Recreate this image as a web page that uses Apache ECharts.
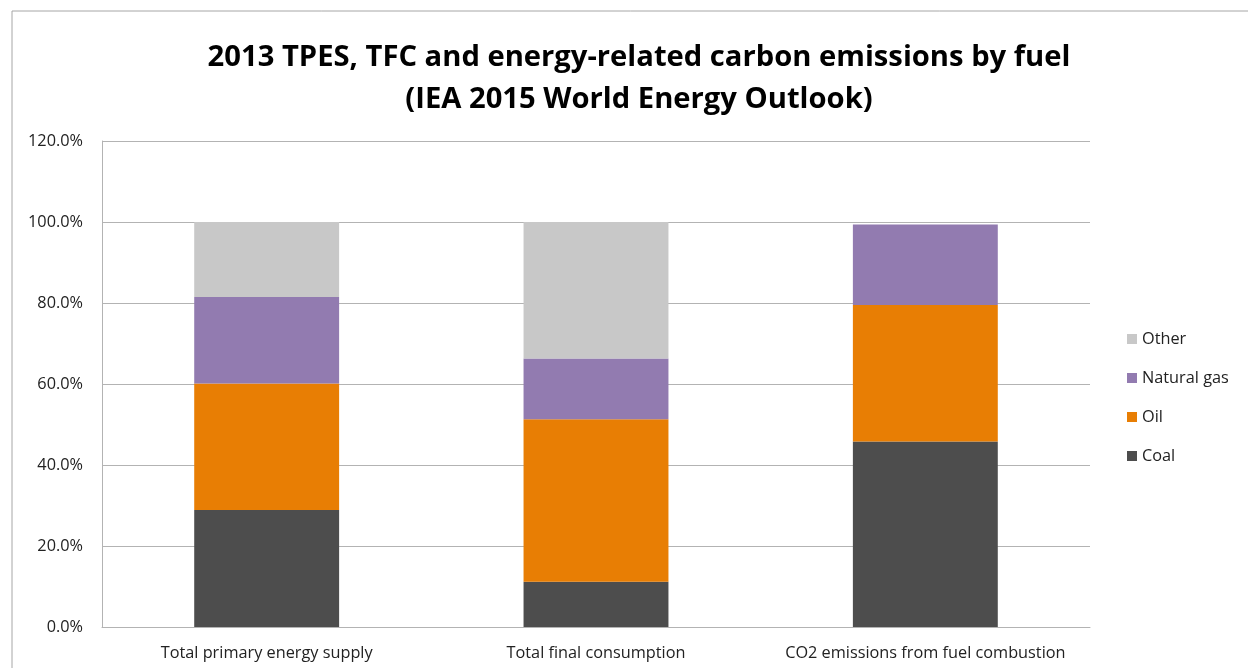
<!DOCTYPE html>
<html><head><meta charset="utf-8">
<script src="https://cdn.jsdelivr.net/npm/echarts@6/dist/echarts.min.js"></script>
<style>html,body{margin:0;padding:0;background:#fff}#c{width:1248px;height:668px}</style>
</head><body><div id="c"></div>
<script>
const categories = ['Total primary energy supply', 'Total final consumption', 'CO2 emissions from fuel combustion'];
const coal = [28.9, 11.2, 45.8];
const oil = [31.2, 40.1, 33.7];
const gas = [21.4, 15.0, 19.9];
const other = [18.5, 33.7, 0];
const seriesNames = ['Coal', 'Oil', 'Natural gas', 'Other'];
const colors = ['#4d4d4d', '#e87e04', '#927bb0', '#c8c8c8'];
const font = '"Open Sans", "Liberation Sans", sans-serif';

const chart = echarts.init(document.getElementById('c'));
const data = [coal, oil, gas, other];
chart.setOption({
  animation: false,
  title: {
    text: '2013 TPES, TFC and energy-related carbon emissions by fuel\n(IEA 2015 World Energy Outlook)',
    left: 634, top: 32, textAlign: 'center',
    textStyle: { fontFamily: font, fontWeight: 'bold', fontSize: 29.2, lineHeight: 42, color: '#000' }
  },
  graphic: [{ type: 'rect', shape: { x: 12, y: 11, width: 1300, height: 700 }, style: { fill: 'none', stroke: '#a6a6a6', lineWidth: 1 }, silent: true }],
  grid: { left: 102, top: 141, width: 988, height: 486 },
  legend: {
    data: ['Other', 'Natural gas', 'Oil', 'Coal'],
    orient: 'vertical', left: 1122, top: 326, itemGap: 23, itemWidth: 10, itemHeight: 10,
    icon: 'rect',
    textStyle: { fontFamily: font, fontSize: 16.3, color: '#222' }
  },
  xAxis: {
    type: 'category', data: categories,
    axisLine: { lineStyle: { color: '#b3b3b3' } },
    axisTick: { show: false },
    axisLabel: { interval: 0, fontFamily: font, fontSize: 16.3, color: '#222', margin: 18 }
  },
  yAxis: {
    type: 'value', min: 0, max: 120, interval: 20,
    axisLine: { show: true, lineStyle: { color: '#b3b3b3' } },
    splitLine: { lineStyle: { color: '#b3b3b3' } },
    axisLabel: { fontFamily: font, fontSize: 16.3, color: '#222', margin: 19, formatter: v => v.toFixed(1) + '%' }
  },
  series: seriesNames.map((n, i) => ({
    name: n, type: 'bar', stack: 'total', barWidth: '44%',
    data: data[i], itemStyle: { color: colors[i] }
  }))
});
</script></body></html>
